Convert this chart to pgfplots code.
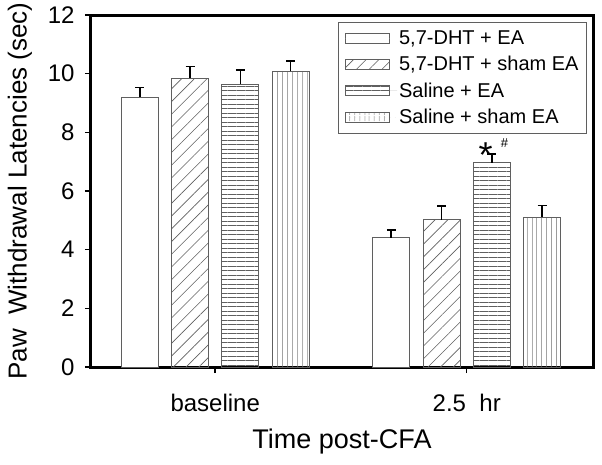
\documentclass[border=0pt]{standalone}
\usepackage{pgfplots}
\pgfplotsset{compat=1.18}
\usepackage{fontspec}
\setmainfont{Liberation Sans}
\usetikzlibrary{patterns.meta}
\definecolor{barline}{RGB}{95,95,95}
\pgfplotsset{
  mybar/.style={bar shift=0pt, draw=barline, line width=0.9pt,
    legend image code/.code={\draw[##1, line width=0.9pt] (0pt,-5pt) rectangle (44pt,5pt); \path[draw=none] (0pt,0pt) -- (52pt,0pt);},
    /pgfplots/error bars/y dir=plus, /pgfplots/error bars/y explicit,
    /pgfplots/error bars/error bar style={black, line width=1.6pt},
    /pgfplots/error bars/error mark options={black, rotate=90, mark size=4.5pt, line width=1.6pt}},
}
\begin{document}
\begin{tikzpicture}
\begin{axis}[
  scale only axis, width=502pt, height=352pt,
  xmin=-0.494, xmax=1.502, ymin=0, ymax=12,
  ytick={0,2,4,6,8,10,12}, xtick={0,1},
  xticklabels={baseline, 2.5\ \ hr},
  ybar, bar width=0.147,
  tick pos=left, tick align=outside, major tick length=6pt,
  axis line style={line width=3pt},
  every tick/.style={black, line width=1.5pt},
  /pgf/number format/assume math mode=true,
  tick label style={font=\fontsize{24}{24}\selectfont},
  yticklabel style={xshift=-7pt},
  xticklabel style={anchor=base, yshift=-38pt},
  ylabel={Paw\ \ Withdrawal Latencies (sec)},
  xlabel={Time post-CFA},
  ylabel style={font=\fontsize{26}{26}\selectfont, at={(axis description cs:0,0.5)}, anchor=center, yshift=71pt},
  xlabel style={font=\fontsize{27}{27}\selectfont, at={(axis description cs:0.5,0)}, anchor=center, yshift=-75pt},
  legend style={at={(1,1)}, anchor=north east, xshift=-6pt, yshift=-7pt,
    draw=barline, line width=0.8pt, font=\fontsize{20}{20}\selectfont,
    legend cell align=left, row sep=6.5pt, inner xsep=6pt, inner ysep=6pt},
]
\addplot[mybar, fill=white] coordinates {(-0.3,9.20) +- (0,0.33) (0.7,4.40) +- (0,0.28)};
\addplot[mybar, pattern={Lines[angle=45,distance=9pt,line width=0.6pt]}, pattern color=barline] coordinates {(-0.1,9.84) +- (0,0.40) (0.9,5.02) +- (0,0.46)};
\addplot[mybar, pattern={Lines[angle=0,distance=4.5pt,line width=0.6pt]}, pattern color=barline] coordinates {(0.1,9.64) +- (0,0.48) (1.1,6.96) +- (0,0.30)};
\addplot[mybar, pattern={Lines[angle=90,distance=5.4pt,line width=0.6pt]}, pattern color=barline] coordinates {(0.3,10.08) +- (0,0.35) (1.3,5.10) +- (0,0.41)};
\legend{{5,7-DHT + EA}, {5,7-DHT + sham EA}, {Saline + EA}, {Saline + sham EA}}
\node[font=\fontsize{36}{36}\selectfont] at (axis cs:1.075,7.22) {*};
\node[font=\fontsize{13}{13}\selectfont] at (axis cs:1.15,7.62) {\#};
\coordinate (O) at (rel axis cs:0,0);
\end{axis}
\pgfresetboundingbox
\path (O) ++(-91pt,-97pt) rectangle ++(602pt,464pt);
\end{tikzpicture}
\end{document}
